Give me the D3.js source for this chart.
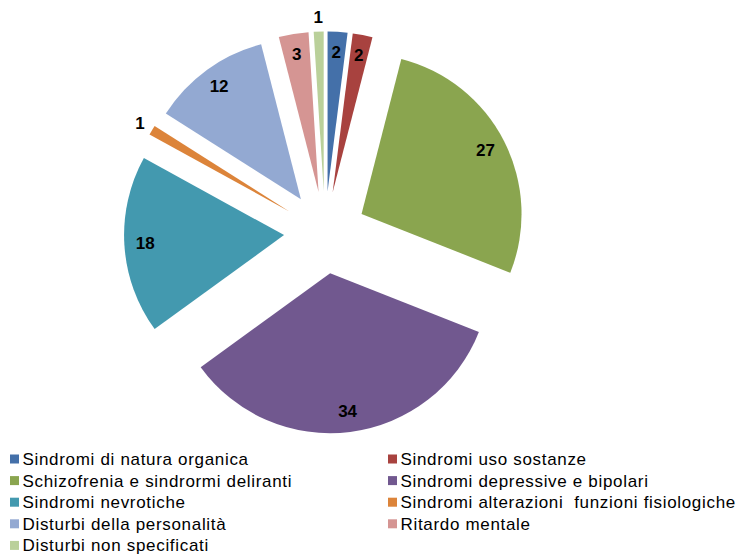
<!DOCTYPE html>
<html>
<head>
<meta charset="utf-8">
<script src="https://cdn.jsdelivr.net/npm/d3@7"></script>
<style>
  html, body { margin: 0; padding: 0; background: #fff; }
  svg { display: block; font-family: "Liberation Sans", Arial, sans-serif; }
  .item text { white-space: pre; }
</style>
</head>
<body>
<svg id="chart" width="736" height="556"></svg>
<script>
// Diagnosis categories and counts
const categories = [
  "Sindromi di natura organica",
  "Sindromi uso sostanze",
  "Schizofrenia e sindrormi deliranti",
  "Sindromi depressive e bipolari",
  "Sindromi nevrotiche",
  "Sindromi alterazioni  funzioni fisiologiche",
  "Disturbi della personalità",
  "Ritardo mentale",
  "Disturbi non specificati"
];
const values = [2, 2, 27, 34, 18, 1, 12, 3, 1];
const colors = [
  "#4470A9", "#A8423F", "#8AA54F", "#71588F", "#4399AF",
  "#DC843A", "#93A9D2", "#D59593", "#BAD09A"
];

const data = categories.map((c, i) => ({ name: c, value: values[i], color: colors[i] }));

const svg = d3.select("#chart");
const cx = 325, cy = 232.5;
const radius = 160;
const explode = 41;

const pie = d3.pie().sort(null).value(d => d.value).startAngle(0).endAngle(2 * Math.PI);
const arcs = pie(data);
const arc = d3.arc().innerRadius(0).outerRadius(radius);

const g = svg.append("g").attr("transform", `translate(${cx},${cy})`);

function offset(a, dist) {
  const m = (a.startAngle + a.endAngle) / 2;
  return [Math.sin(m) * dist, -Math.cos(m) * dist];
}

// Exploded slices
const slice = g.selectAll("g.slice").data(arcs).join("g")
  .attr("class", "slice")
  .attr("transform", d => { const [x, y] = offset(d, explode); return `translate(${x},${y})`; });

slice.append("path")
  .attr("d", arc)
  .attr("fill", d => d.data.color);

// Value labels; the thinnest slices get theirs just outside the rim
slice.append("text")
  .attr("transform", d => {
    const r = d.data.value < 2 ? radius + 14 : radius * 0.87;
    const [x, y] = offset(d, r);
    return `translate(${x},${y})`;
  })
  .attr("text-anchor", "middle")
  .attr("dominant-baseline", "central")
  .attr("font-weight", "bold")
  .attr("font-size", 17)
  .attr("fill", "#000")
  .text(d => d.data.value);

// Legend in two columns
const legend = svg.append("g");
const colX = [10, 388];
const rowY0 = 459.5, rowH = 21.6;
const item = legend.selectAll("g.item").data(data).join("g")
  .attr("class", "item")
  .attr("transform", (d, i) => `translate(${colX[i % 2]},${rowY0 + Math.floor(i / 2) * rowH})`);
item.append("rect")
  .attr("x", 0).attr("y", -5).attr("width", 9).attr("height", 9)
  .attr("fill", d => d.color);
item.append("text")
  .attr("x", 12.5).attr("y", 0)
  .attr("dominant-baseline", "central")
  .attr("font-size", 17)
  .attr("letter-spacing", 0.68)
  .attr("fill", "#000")
  .text(d => d.name);
</script>
</body>
</html>
